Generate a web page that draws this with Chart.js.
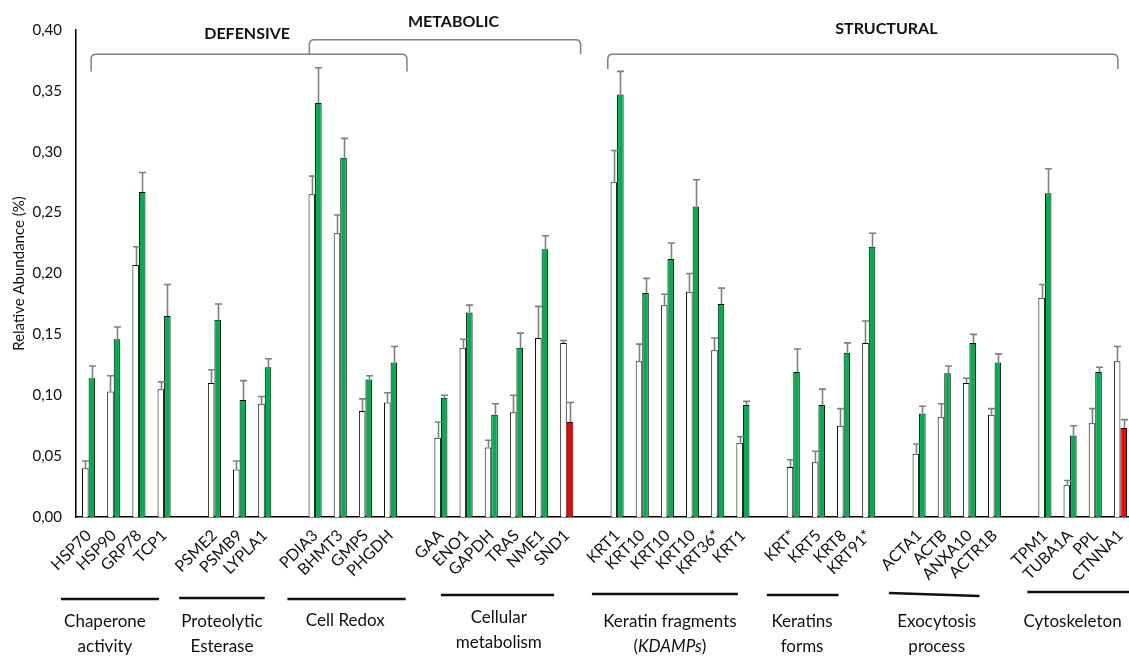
<!DOCTYPE html>
<html>
<head>
<meta charset="utf-8">
<script src="https://cdn.jsdelivr.net/npm/chart.js@4.4.1/dist/chart.umd.min.js"></script>
<style>
  html, body { margin: 0; padding: 0; background: #fff; overflow: hidden; }
  #wrap { position: absolute; left: 0; top: 0; width: 1140px; height: 656px; }
</style>
</head>
<body>
<div id="wrap"><canvas id="c" width="1140" height="656"></canvas></div>
<script>
// Protein slots along the x axis; empty strings leave a gap between functional groups.
const proteins = [
  'HSP70', 'HSP90', 'GRP78', 'TCP1', '',
  'PSME2', 'PSMB9', 'LYPLA1', '',
  'PDIA3', 'BHMT3', 'GMPS', 'PHGDH', '',
  'GAA', 'ENO1', 'GAPDH', 'TRAS', 'NME1', 'SND1', '',
  'KRT1', 'KRT10', 'KRT10', 'KRT10', 'KRT36*', 'KRT1', '',
  'KRT*', 'KRT5', 'KRT8', 'KRT91*', '',
  'ACTA1', 'ACTB', 'ANXA10', 'ACTR1B', '',
  'TPM1', 'TUBA1A', 'PPL', 'CTNNA1'
];

// Relative abundance (%) – control (white bars)
const controlMean = [
  0.040, 0.103, 0.207, 0.105, null,
  0.110, 0.039, 0.093, null,
  0.265, 0.233, 0.087, 0.094, null,
  0.065, 0.139, 0.057, 0.086, 0.147, 0.143, null,
  0.275, 0.128, 0.174, 0.185, 0.137, 0.061, null,
  0.041, 0.045, 0.075, 0.143, null,
  0.052, 0.082, 0.110, 0.084, null,
  0.180, 0.026, 0.077, 0.128
];
const controlErr = [
  0.006, 0.013, 0.015, 0.006, null,
  0.011, 0.007, 0.006, null,
  0.015, 0.015, 0.010, 0.008, null,
  0.013, 0.007, 0.006, 0.014, 0.026, 0.002, null,
  0.026, 0.014, 0.009, 0.015, 0.010, 0.005, null,
  0.006, 0.009, 0.014, 0.018, null,
  0.008, 0.011, 0.004, 0.005, null,
  0.011, 0.004, 0.012, 0.012
];

// Relative abundance (%) – treated (coloured bars)
const treatedMean = [
  0.114, 0.146, 0.267, 0.165, null,
  0.162, 0.096, 0.123, null,
  0.340, 0.295, 0.113, 0.127, null,
  0.098, 0.168, 0.084, 0.139, 0.220, 0.078, null,
  0.347, 0.184, 0.212, 0.255, 0.175, 0.092, null,
  0.119, 0.092, 0.135, 0.222, null,
  0.085, 0.118, 0.143, 0.127, null,
  0.266, 0.067, 0.119, 0.073
];
const treatedErr = [
  0.010, 0.010, 0.016, 0.026, null,
  0.013, 0.016, 0.007, null,
  0.029, 0.016, 0.003, 0.013, null,
  0.002, 0.006, 0.009, 0.012, 0.011, 0.016, null,
  0.019, 0.012, 0.013, 0.022, 0.013, 0.003, null,
  0.019, 0.013, 0.008, 0.011, null,
  0.006, 0.006, 0.007, 0.007, null,
  0.020, 0.008, 0.004, 0.007
];

// Y-axis tick values
const yTicks = [0, 0.05, 0.10, 0.15, 0.20, 0.25, 0.30, 0.35, 0.40];

// Functional groups written under the axis
const groupTitles = [
  ['Chaperone', 'activity'],
  ['Proteolytic', 'Esterase'],
  ['Cell Redox'],
  ['Cellular', 'metabolism'],
  ['Keratin fragments', '(KDAMPs)'],
  ['Keratins', 'forms'],
  ['Exocytosis', 'process'],
  ['Cytoskeleton']
];

// Broad classes bracketed above the bars
const classTitles = ['DEFENSIVE', 'METABOLIC', 'STRUCTURAL'];

// ---- drawing helpers ----------------------------------------------------
const FONT = 'Lato, "Open Sans", sans-serif';
const GREEN = '#00b050';
const RED = '#ff0000';

// Where each group's rule and caption sit (slot units along x, px below the axis)
const groupLayout = [
  { from: -1.1, to: 2.8,  cx: 0.65, line: 82, text: 105 },
  { from: 3.6,  to: 7.0,  cx: 5.3,  line: 81, text: 105 },
  { from: 7.9,  to: 12.6, cx: 10.2, line: 82, text: 104 },
  { from: 14.0, to: 18.5, cx: 16.3, line: 78, text: 101 },
  { from: 20.0, to: 25.8, cx: 23.1, line: 77, text: 105 },
  { from: 26.95,to: 29.8, cx: 28.35,line: 78, text: 105 },
  { from: 31.8, to: 35.4, cx: 33.7, line: 76, text: 105, tilt: 3 },
  { from: 37.3, to: 42.0, cx: 39.1, line: 75, text: 105 }
];

// Brackets above the bars (slot units along x, values along y)
const classLayout = [
  { from: 0.1,   to: 12.65, yLine: 0.380, yEnd: 0.366, tx: 6.3,  ty: 0.397 },
  { from: 8.77,  to: 19.55, yLine: 0.392, yEnd: 0.380, tx: 14.5, ty: 0.407 },
  { from: 20.63, to: 40.9,  yLine: 0.380, yEnd: 0.368, tx: 31.7, ty: 0.401 }
];

function slotX(chart, slot) {
  const s = chart.scales.x;
  const x0 = s.getPixelForValue(0), x1 = s.getPixelForValue(1);
  return x0 + slot * (x1 - x0);
}

const errorBars = {
  id: 'errorBars',
  afterDatasetsDraw(chart) {
    const ctx = chart.ctx;
    const y = chart.scales.y;
    const errs = [controlErr, treatedErr];
    ctx.save();
    ctx.strokeStyle = '#7f7f7f';
    ctx.lineWidth = 1.6;
    chart.data.datasets.forEach((ds, di) => {
      const meta = chart.getDatasetMeta(di);
      meta.data.forEach((bar, i) => {
        const v = ds.data[i], e = errs[di][i];
        if (v == null || e == null) return;
        const top = y.getPixelForValue(v + e);
        const x = Math.round(bar.x) + 0.5;
        ctx.beginPath();
        ctx.moveTo(x, bar.y);
        ctx.lineTo(x, top);
        ctx.moveTo(x - 3.5, top);
        ctx.lineTo(x + 3.5, top);
        ctx.stroke();
      });
    });
    ctx.restore();
  }
};

const annotations = {
  id: 'annotations',
  afterDraw(chart) {
    const ctx = chart.ctx;
    const y = chart.scales.y;
    const base = chart.chartArea.bottom;
    ctx.save();

    // class brackets
    ctx.strokeStyle = '#7f7f7f';
    ctx.lineWidth = 1.5;
    classLayout.forEach((c, i) => {
      const x1 = slotX(chart, c.from), x2 = slotX(chart, c.to);
      const yl = y.getPixelForValue(c.yLine), ye = y.getPixelForValue(c.yEnd);
      const r = 5;
      ctx.beginPath();
      ctx.moveTo(x1, ye);
      ctx.lineTo(x1, yl + r);
      ctx.quadraticCurveTo(x1, yl, x1 + r, yl);
      ctx.lineTo(x2 - r, yl);
      ctx.quadraticCurveTo(x2, yl, x2, yl + r);
      ctx.lineTo(x2, ye);
      ctx.stroke();
      ctx.fillStyle = '#111';
      ctx.font = 'bold 16px ' + FONT;
      ctx.textAlign = 'center';
      ctx.textBaseline = 'middle';
      ctx.fillText(classTitles[i], slotX(chart, c.tx), y.getPixelForValue(c.ty));
    });

    // group rules and captions under the axis
    ctx.strokeStyle = '#111';
    ctx.lineWidth = 2.7;
    ctx.fillStyle = '#111';
    ctx.textBaseline = 'middle';
    const F = '17px ' + FONT, FI = 'italic 17px ' + FONT;
    groupLayout.forEach((g, i) => {
      const x1 = slotX(chart, g.from), x2 = slotX(chart, g.to);
      const yl = base + g.line;
      ctx.beginPath();
      ctx.moveTo(x1, yl);
      ctx.lineTo(x2, yl + (g.tilt || 0));
      ctx.stroke();
      const cx = slotX(chart, g.cx);
      groupTitles[i].forEach((t, k) => {
        const ty = base + g.text + k * 25;
        ctx.font = F;
        const m = /^\((.*)\)$/.exec(t);
        if (m) {
          // parenthesised acronym is set in italics
          const open = ctx.measureText('(').width;
          const close = ctx.measureText(')').width;
          ctx.font = FI;
          const mid = ctx.measureText(m[1]).width;
          let x = cx - (open + mid + close) / 2;
          ctx.textAlign = 'left';
          ctx.font = F;
          ctx.fillText('(', x, ty); x += open;
          ctx.font = FI;
          ctx.fillText(m[1], x, ty); x += mid;
          ctx.font = F;
          ctx.fillText(')', x, ty);
        } else {
          ctx.textAlign = 'center';
          ctx.fillText(t, cx, ty);
        }
      });
    });
    ctx.restore();
  }
};

new Chart(document.getElementById('c'), {
  type: 'bar',
  data: {
    labels: proteins,
    datasets: [
      {
        label: 'Control',
        data: controlMean,
        backgroundColor: '#ffffff',
        borderColor: '#000000',
        borderWidth: 1
      },
      {
        label: 'Treated',
        data: treatedMean,
        // decreased abundance relative to control is shown in red
        backgroundColor: (c) => {
          const v = c.raw, ref = controlMean[c.dataIndex];
          return (v != null && ref != null && v < ref) ? RED : GREEN;
        },
        borderColor: '#000000',
        borderWidth: 1
      }
    ]
  },
  options: {
    responsive: false,
    animation: false,
    devicePixelRatio: 1,
    layout: { padding: { left: 0, right: 7, top: 30, bottom: 0 } },
    datasets: { bar: { barPercentage: 1.0, categoryPercentage: 0.52 } },
    plugins: { legend: { display: false }, tooltip: { enabled: false } },
    scales: {
      x: {
        grid: { display: false, drawTicks: false },
        border: { display: true, color: '#000', width: 1.5 },
        ticks: {
          autoSkip: false, maxRotation: 45, minRotation: 45,
          color: '#111', padding: 9,
          font: { family: FONT, size: 16 }
        },
        afterFit: (s) => { s.height = 139; s.paddingLeft = 0; s.paddingRight = 0; }
      },
      y: {
        min: 0, max: 0.4,
        afterBuildTicks: (s) => { s.ticks = yTicks.map(v => ({ value: v })); },
        grid: { display: false, drawTicks: false },
        border: { display: true, color: '#000', width: 1.5 },
        ticks: {
          color: '#111', padding: 14,
          font: { family: FONT, size: 15 },
          callback: (v) => Number(v).toFixed(2).replace('.', ',')
        },
        title: {
          display: true, text: 'Relative Abundance (%)',
          color: '#111', font: { family: FONT, size: 15 },
          padding: { top: 10, bottom: 0 }
        },
        afterFit: (s) => { s.width = 76; s.paddingTop = 0; s.paddingBottom = 0; }
      }
    }
  },
  plugins: [errorBars, annotations]
});
</script>
</body>
</html>
